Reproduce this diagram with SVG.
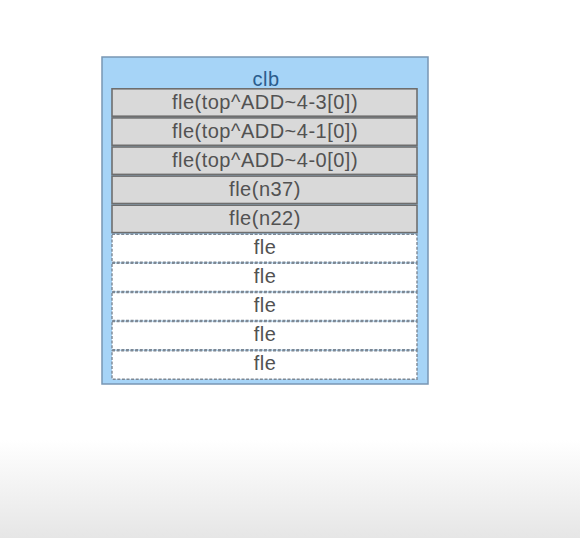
<svg xmlns="http://www.w3.org/2000/svg" width="580" height="538" viewBox="0 0 580 538">
  <defs>
    <linearGradient id="bg" x1="0" y1="0" x2="0" y2="1">
      <stop offset="0" stop-color="#ffffff"/>
      <stop offset="1" stop-color="#e6e6e6"/>
    </linearGradient>
  </defs>
  <style>
    .clb { fill: #a6d4f7; stroke: #7896b4; stroke-width: 1.5; }
    .used { fill: #d9d9d9; stroke: #6e6e6e; stroke-width: 1.6; }
    .free { fill: #ffffff; stroke: #7d8894; stroke-width: 1.4; stroke-dasharray: 3 1.6; }
    .t { font-family: "Liberation Sans", Arial, sans-serif; font-size: 20px; letter-spacing: 0.5px; fill: #525252; text-anchor: middle; }
    .ct { font-family: "Liberation Sans", Arial, sans-serif; font-size: 20px; letter-spacing: 0.5px; fill: #2b5c8c; text-anchor: middle; }
  </style>
  <rect x="0" y="0" width="580" height="538" fill="#ffffff"/>
  <rect x="0" y="440" width="580" height="98" fill="url(#bg)"/>

  <g id="clb">
    <rect class="clb" x="102" y="57" width="326" height="327"/>
    <text class="ct" x="266" y="86">clb</text>
  </g>

  <g id="fle1"><rect class="used" x="112" y="88.8" width="305" height="27.4"/><text class="t" x="265" y="109">fle(top^ADD~4-3[0])</text></g>
  <g id="fle2"><rect class="used" x="112" y="117.9" width="305" height="27.4"/><text class="t" x="265" y="138">fle(top^ADD~4-1[0])</text></g>
  <g id="fle3"><rect class="used" x="112" y="147" width="305" height="27.4"/><text class="t" x="265" y="167">fle(top^ADD~4-0[0])</text></g>
  <g id="fle4"><rect class="used" x="112" y="176.1" width="305" height="27.4"/><text class="t" x="265" y="196">fle(n37)</text></g>
  <g id="fle5"><rect class="used" x="112" y="205.2" width="305" height="27.4"/><text class="t" x="265" y="225">fle(n22)</text></g>
  <g id="fle6"><rect class="free" x="112" y="234.3" width="305" height="28"/><text class="t" x="265" y="254">fle</text></g>
  <g id="fle7"><rect class="free" x="112" y="263.4" width="305" height="28"/><text class="t" x="265" y="283">fle</text></g>
  <g id="fle8"><rect class="free" x="112" y="292.5" width="305" height="28"/><text class="t" x="265" y="312">fle</text></g>
  <g id="fle9"><rect class="free" x="112" y="321.6" width="305" height="28"/><text class="t" x="265" y="341">fle</text></g>
  <g id="fle10"><rect class="free" x="112" y="350.7" width="305" height="28.5"/><text class="t" x="265" y="370">fle</text></g>

  <g id="connectors"/>
</svg>
